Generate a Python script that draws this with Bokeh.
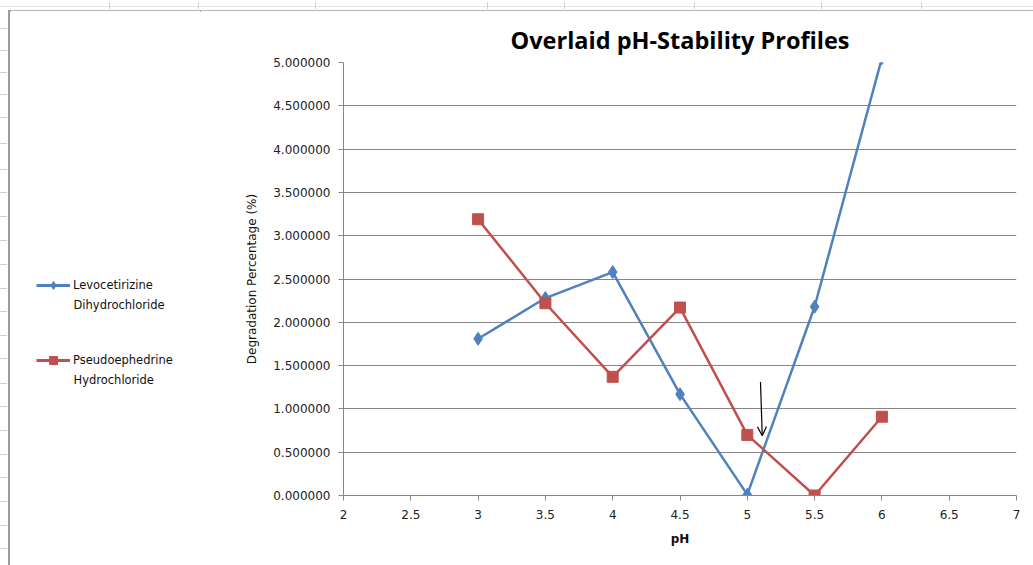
from bokeh.plotting import figure
from bokeh.layouts import row, column
from bokeh.models import (Range1d, Legend, LegendItem, Arrow, OpenHead, Label,
                          NumeralTickFormatter, FixedTicker, Div)
from bokeh.embed import file_html
from bokeh.resources import INLINE

# pH levels tested and degradation (%) for each active ingredient
ph = [3, 3.5, 4, 4.5, 5, 5.5, 6]
levocetirizine = [1.81, 2.28, 2.58, 1.17, 0.01, 2.18, 5.05]
pseudoephedrine = [3.19, 2.22, 1.37, 2.17, 0.70, 0.00, 0.91]

x_ticks = [2, 2.5, 3, 3.5, 4, 4.5, 5, 5.5, 6, 6.5, 7]
x_tick_labels = ["2", "2.5", "3", "3.5", "4", "4.5", "5", "5.5", "6", "6.5", "7"]
y_ticks = [0, 0.5, 1, 1.5, 2, 2.5, 3, 3.5, 4, 4.5, 5]

series_names = [("Levocetirizine", "Dihydrochloride"),
                ("Pseudoephedrine", "Hydrochloride")]

# arrow marking the crossover just above pH 5
arrow_start = (5.098, 1.31)
arrow_end = (5.111, 0.69)

BLUE = "#4F81BD"
RED = "#C0504D"
AXIS_GREY = "#868686"
SHEET_GREY = "#D0D0D0"
BORDER_GREY = "#9C9C9C"
TITLE_FONT = "Open Sans"
FONT = "DejaVu Sans"

W, H = 1033, 565
STRIP = 10            # worksheet strip above / left of the chart area
SIDE_W = 190          # legend column
FRAME_TOP, FRAME_BOTTOM, FRAME_LEFT, FRAME_RIGHT = 62, 495, 343, 1016

# worksheet column / row separators that show around the chart area
sheet_cols = [109, 198, 315, 487, 564, 694, 821, 921]
sheet_rows = [28, 50, 72, 94, 117, 143, 169, 192, 216, 240, 264, 288, 311,
              335, 358, 383, 406, 430, 454, 477, 501, 525, 548]

# ---- worksheet strip along the top edge
top_parts = ['<div style="position:relative;width:%dpx;height:%dpx;overflow:hidden;background:white">' % (W, STRIP)]
top_parts.append('<div style="position:absolute;left:0;top:4px;width:%dpx;height:1px;background:#E8E8E8"></div>' % W)
for cx in sheet_cols:
    top_parts.append('<div style="position:absolute;left:%dpx;top:0;width:1px;height:7px;background:%s"></div>' % (cx, SHEET_GREY))
top_parts.append('<div style="position:absolute;left:8px;top:8px;width:%dpx;height:2px;background:%s"></div>' % (W - 8, BORDER_GREY))
top_parts.append('</div>')
top = Div(text="".join(top_parts), width=W, height=STRIP, margin=0)

# ---- worksheet strip along the left edge
left_parts = ['<div style="position:relative;width:%dpx;height:%dpx;overflow:hidden;background:white">' % (STRIP, H - STRIP)]
for ry in sheet_rows:
    left_parts.append('<div style="position:absolute;left:0;top:%dpx;width:7px;height:1px;background:%s"></div>' % (ry - STRIP, SHEET_GREY))
left_parts.append('<div style="position:absolute;left:8px;top:0;width:2px;height:%dpx;background:%s"></div>' % (H - STRIP, BORDER_GREY))
left_parts.append('</div>')
left = Div(text="".join(left_parts), width=STRIP, height=H - STRIP, margin=0)

# ---- legend column (its frame lines up with the chart frame)
side = figure(width=SIDE_W, height=H - STRIP, output_backend="svg",
              toolbar_location=None,
              x_range=Range1d(STRIP, STRIP + SIDE_W),
              y_range=Range1d(FRAME_BOTTOM, FRAME_TOP),
              min_border_left=0, min_border_right=0,
              min_border_top=FRAME_TOP - STRIP, min_border_bottom=H - FRAME_BOTTOM,
              x_axis_type=None, y_axis_type=None)
side.xgrid.visible = False
side.ygrid.visible = False
side.outline_line_color = None
side.background_fill_color = "white"
side.border_fill_color = "white"

k1 = side.line(ph, levocetirizine, line_color=BLUE, line_width=3, visible=False)
d1 = side.scatter(ph, levocetirizine, marker="diamond", size=14,
                  fill_color=BLUE, line_color=BLUE, visible=False)
k2 = side.line(ph, pseudoephedrine, line_color=RED, line_width=3, visible=False)
d2 = side.scatter(ph, pseudoephedrine, marker="square", size=12,
                  fill_color=RED, line_color=RED, visible=False)

ITEM_H, GAP = 20, 55
legend_top = 275
legend = Legend(items=[LegendItem(label=series_names[0][0], renderers=[k1, d1]),
                       LegendItem(label=series_names[1][0], renderers=[k2, d2])],
                location=(36 - STRIP, FRAME_BOTTOM - legend_top - (2 * ITEM_H + GAP)))
legend.border_line_color = None
legend.background_fill_alpha = 0
legend.inactive_fill_alpha = 0
legend.glyph_width = 34
legend.glyph_height = ITEM_H
legend.label_height = ITEM_H
legend.label_standoff = 3
legend.spacing = GAP
legend.padding = 0
legend.margin = 0
legend.label_text_font = FONT
legend.label_text_font_size = "11.5px"
legend.label_text_color = "#111111"
side.add_layout(legend, "center")
for name, yy in ((series_names[0][1], 304), (series_names[1][1], 379)):
    side.add_layout(Label(x=73, y=yy, text=name, text_font=FONT,
                          text_font_size="11.5px", text_color="#111111",
                          text_baseline="middle"))

# ---- chart
p = figure(width=W - STRIP - SIDE_W, height=H - STRIP, output_backend="svg",
           toolbar_location=None, x_range=Range1d(2, 7), y_range=Range1d(0, 5),
           min_border_left=FRAME_LEFT - STRIP - SIDE_W, min_border_right=W - FRAME_RIGHT,
           min_border_top=FRAME_TOP - STRIP, min_border_bottom=H - FRAME_BOTTOM,
           title="Overlaid pH-Stability Profiles")
p.outline_line_color = None
p.background_fill_color = "white"
p.border_fill_color = "white"

p.title.align = "center"
p.title.text_font = TITLE_FONT
p.title.text_font_size = "23.5px"
p.title.text_font_style = "bold"
p.title.text_color = "#000000"
p.title.standoff = 13
p.title.offset = 5

p.xaxis.ticker = FixedTicker(ticks=x_ticks)
p.xaxis.major_label_overrides = {t: s for t, s in zip(x_ticks, x_tick_labels)}
p.yaxis.ticker = FixedTicker(ticks=y_ticks)
p.yaxis.formatter = NumeralTickFormatter(format="0.000000")
for ax in (p.xaxis, p.yaxis):
    ax.axis_line_color = AXIS_GREY
    ax.major_tick_line_color = AXIS_GREY
    ax.major_tick_out = 5
    ax.major_tick_in = 0
    ax.minor_tick_line_color = None
    ax.major_label_text_font = FONT
    ax.major_label_text_font_size = "12px"
    ax.major_label_text_color = "#222222"
    ax.axis_label_text_font = FONT
    ax.axis_label_text_color = "#111111"
p.xaxis.axis_label = "pH"
p.xaxis.axis_label_text_font_size = "12px"
p.xaxis.axis_label_text_font_style = "bold"
p.xaxis.major_label_standoff = 9
p.xaxis.axis_label_standoff = 10
p.yaxis.axis_label = "Degradation Percentage (%)"
p.yaxis.axis_label_text_font_size = "12px"
p.yaxis.axis_label_text_font_style = "normal"
p.yaxis.major_label_standoff = 8
p.yaxis.axis_label_standoff = 11

p.xgrid.grid_line_color = None
p.ygrid.grid_line_color = AXIS_GREY
p.ygrid.grid_line_width = 1

p.line(ph, levocetirizine, line_color=BLUE, line_width=2.5)
p.scatter(ph, levocetirizine, marker="diamond", size=13, fill_color=BLUE, line_color=BLUE)
p.line(ph, pseudoephedrine, line_color=RED, line_width=2.5)
p.scatter(ph, pseudoephedrine, marker="square", size=11, fill_color=RED, line_color=RED)

p.add_layout(Arrow(end=OpenHead(size=9, line_width=1.2, line_color="black"),
                   x_start=arrow_start[0], y_start=arrow_start[1],
                   x_end=arrow_end[0], y_end=arrow_end[1],
                   line_color="black", line_width=1.2))

page = column(top, row(left, side, p, spacing=0), spacing=0)
open("out.html", "w").write(file_html(page, INLINE))
